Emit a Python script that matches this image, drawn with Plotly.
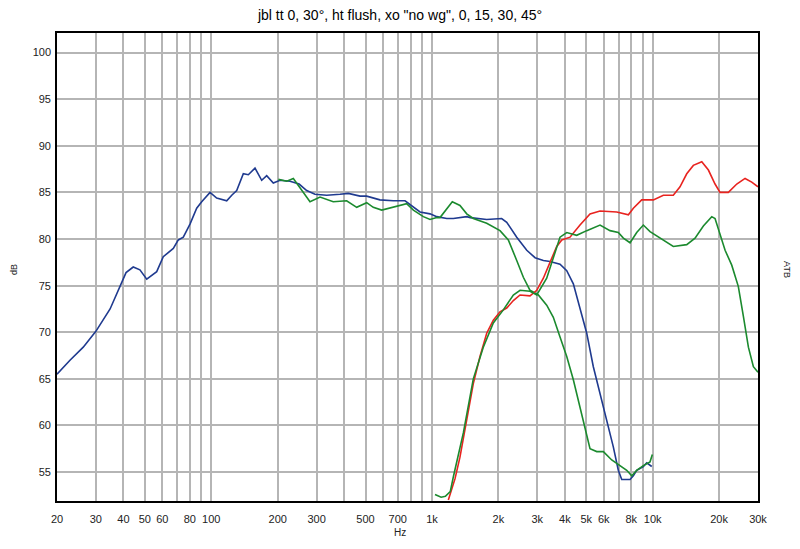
import plotly.graph_objects as go

# woofer on axis (blue)
woofer_0_hz = [20, 22.9, 26.3, 30, 34.8, 38.6, 41.1, 44.3, 47.5, 51, 56.6, 60.6, 63.9, 67.3,
               70.9, 74.7, 80.1, 85.9, 90.5, 98.7, 105.8, 117.5, 123.8, 130.4, 139.7, 147.2,
               157.8, 169.2, 178.3, 191, 204.9, 227.4, 250, 270.6, 295, 333.5, 383, 417.8,
               472, 506, 581, 668, 755, 823.7, 882.8, 980, 1051, 1167, 1250, 1437, 1491,
               1770, 2069, 2181, 2421, 2688, 2931, 3196, 3426, 3803, 4079, 4370, 4684, 5025,
               5383, 5773, 6190, 6631, 6986, 7240, 7896, 8172, 8464, 8765, 9069, 9397, 9902]
woofer_0_db = [65.5, 67.0, 68.4, 70.1, 72.5, 74.9, 76.4, 77.0, 76.7, 75.7, 76.5, 78.1, 78.6, 79.0,
               79.9, 80.2, 81.6, 83.3, 84.0, 85.0, 84.4, 84.1, 84.7, 85.2, 87.0, 86.9,
               87.6, 86.3, 86.8, 86.0, 86.3, 86.2, 85.9, 85.2, 84.8, 84.7, 84.8, 84.9,
               84.6, 84.6, 84.2, 84.1, 84.1, 83.4, 82.9, 82.7, 82.4, 82.2, 82.2, 82.4, 82.3,
               82.1, 82.2, 81.8, 80.2, 78.8, 78.0, 77.7, 77.6, 77.3, 76.6, 75.2, 72.7, 69.9,
               66.3, 63.4, 60.6, 57.7, 55.2, 54.2, 54.2, 54.6, 55.2, 55.4, 55.6, 56.0, 55.6]

# woofer 30 deg (green)
woofer_30_hz = [201.4, 219.8, 235.4, 250, 270.6, 280.1, 311, 357, 410.6, 456, 506, 542, 592,
                668, 768, 823.7, 913.8, 980, 1051, 1087, 1236, 1339, 1437, 1539, 1770, 2033,
                2218, 2421, 2594, 2781, 3033, 3310, 3546, 3803, 4079, 4370, 4684, 4937, 5200,
                5577, 5976, 6522, 7112, 7627, 8035, 8464, 9069, 9727, 9963]
woofer_30_db = [86.4, 86.2, 86.5, 85.6, 84.5, 84.0, 84.5, 84.0, 84.1, 83.4, 83.9, 83.4, 83.1,
                83.4, 83.8, 83.1, 82.4, 82.1, 82.3, 82.3, 84.0, 83.6, 82.7, 82.2, 81.7, 80.9,
                79.9, 77.7, 75.9, 74.5, 74.0, 72.9, 71.6, 69.5, 67.4, 64.9, 62.0, 59.5, 57.5,
                57.2, 57.2, 56.3, 55.7, 55.2, 54.6, 55.2, 55.7, 56.1, 56.9]

# tweeter on axis (red)
tweeter_0_hz = [1186, 1272, 1339, 1437, 1539, 1650, 1770, 1896, 2033, 2181, 2337, 2506, 2781,
                2983, 3196, 3426, 3675, 3873, 4221, 4684, 5200, 5773, 6873, 7761, 8172, 8918,
                10070, 11174, 12399, 13297, 14263, 15282, 16686, 17882, 19163, 20190, 22015,
                24040, 26215, 28100, 30000]
tweeter_0_db = [52.0, 54.3, 56.6, 60.6, 64.5, 67.4, 69.9, 71.3, 72.2, 72.6, 73.4, 74.0, 73.9,
                74.5, 75.8, 77.5, 79.2, 79.9, 80.2, 81.5, 82.7, 83.0, 82.9, 82.6, 83.3, 84.2,
                84.2, 84.7, 84.7, 85.6, 87.0, 87.9, 88.3, 87.4, 85.9, 85.0, 85.0,
                85.9, 86.5, 86.1, 85.6]

# tweeter 30 deg (green)
tweeter_30_hz = [1032, 1100, 1150, 1210, 1250, 1387, 1539, 1708, 1896, 2105, 2337, 2506, 2781,
                 2983, 3310, 3546, 3803, 4079, 4525, 5025, 5773, 6407, 6986, 7364, 7896, 8464,
                 9069, 9727, 10794, 12399, 14263, 15555, 16965, 18517, 19163, 20190, 21281,
                 22810, 24440, 25760, 27140, 28590, 30000]
tweeter_30_db = [52.6, 52.3, 52.4, 52.9, 54.5, 59.2, 65.0, 68.4, 71.0, 72.4, 74.0, 74.5, 74.4,
                 74.0, 75.8, 78.1, 80.2, 80.7, 80.4, 80.9, 81.5, 80.9, 80.7, 80.1, 79.6, 80.7,
                 81.5, 80.8, 80.1, 79.2, 79.4, 80.1, 81.4, 82.4, 82.2, 80.6, 78.8,
                 77.2, 74.9, 71.7, 68.4, 66.3, 65.7]

x_grid = [20, 30, 40, 50, 60, 70, 80, 90, 100, 200, 300, 400, 500, 600, 700, 800, 900,
          1000, 2000, 3000, 4000, 5000, 6000, 7000, 8000, 9000, 10000, 20000, 30000]
x_labels = ["20", "30", "40", "50", "60", "", "80", "", "100", "200", "300", "", "500", "",
            "700", "", "", "1k", "2k", "3k", "4k", "5k", "6k", "", "8k", "", "10k", "20k", "30k"]
y_ticks = [55, 60, 65, 70, 75, 80, 85, 90, 95, 100]

BLUE = "#1f3a8f"
GREEN = "#1b8a2e"
RED = "#e8231f"
FONT = "Liberation Sans"

fig = go.Figure()
fig.add_trace(go.Scatter(x=woofer_0_hz, y=woofer_0_db, mode="lines",
                         line=dict(color=BLUE, width=1.6)))
fig.add_trace(go.Scatter(x=woofer_30_hz, y=woofer_30_db, mode="lines",
                         line=dict(color=GREEN, width=1.6)))
fig.add_trace(go.Scatter(x=tweeter_0_hz, y=tweeter_0_db, mode="lines",
                         line=dict(color=RED, width=1.6)))
fig.add_trace(go.Scatter(x=tweeter_30_hz, y=tweeter_30_db, mode="lines",
                         line=dict(color=GREEN, width=1.6)))

# page body has an 8px margin, so the figure is a bit smaller than the window
fig.update_layout(
    width=792,
    height=541,
    showlegend=False,
    paper_bgcolor="white",
    plot_bgcolor="white",
    margin=dict(l=49, r=42, t=25, b=48),
    font=dict(family=FONT, size=11, color="#222222"),
    title=dict(text="jbl tt 0, 30°, ht flush, xo \"no wg\", 0, 15, 30, 45°",
               x=0.495, xanchor="center", y=0.987, yanchor="middle",
               font=dict(family=FONT, size=14, color="black")),
    xaxis=dict(
        type="log",
        range=[1.30103, 4.47712],
        tickvals=x_grid,
        ticktext=x_labels,
        ticks="outside",
        ticklen=7,
        tickcolor="rgba(0,0,0,0)",
        showgrid=True,
        gridcolor="#b5b5b5",
        gridwidth=1.6,
        showline=True,
        linecolor="black",
        linewidth=1.6,
        mirror=True,
        zeroline=False,
    ),
    yaxis=dict(
        range=[51.9, 102.1],
        tickvals=y_ticks,
        ticks="outside",
        ticklen=2,
        tickcolor="rgba(0,0,0,0)",
        showgrid=True,
        gridcolor="#b5b5b5",
        gridwidth=1.6,
        showline=True,
        linecolor="black",
        linewidth=1.6,
        mirror=True,
        zeroline=False,
    ),
    annotations=[
        dict(text="dB", xref="paper", yref="paper", x=-0.061, y=0.494, showarrow=False,
             xanchor="center", yanchor="middle", textangle=-90, font=dict(size=9)),
        dict(text="ATB", xref="paper", yref="paper", x=1.041, y=0.494, showarrow=False,
             xanchor="center", yanchor="middle", textangle=90, font=dict(size=9)),
        dict(text="Hz", xref="paper", yref="paper", x=0.489, y=-0.068, showarrow=False,
             xanchor="center", yanchor="middle", font=dict(size=10)),
    ],
)

fig.write_html("out.html")
